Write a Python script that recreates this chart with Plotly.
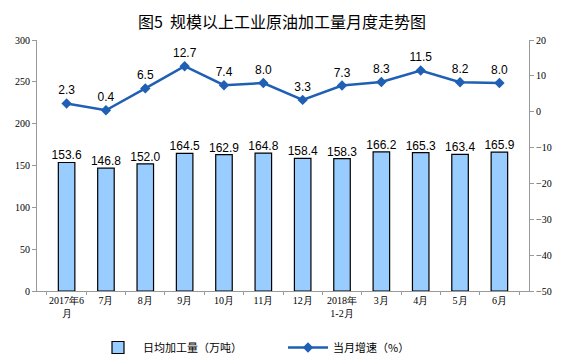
import plotly.graph_objects as go

categories = ["2017年6<br>月", "7月", "8月", "9月", "10月", "11月", "12月", "2018年<br>1-2月", "3月", "4月", "5月", "6月"]
daily_output = [153.6, 146.8, 152.0, 164.5, 162.9, 164.8, 158.4, 158.3, 166.2, 165.3, 163.4, 165.9]
growth = [2.3, 0.4, 6.5, 12.7, 7.4, 8.0, 3.3, 7.3, 8.3, 11.5, 8.2, 8.0]
left_ticks = [0, 50, 100, 150, 200, 250, 300]
right_ticks = [-50, -40, -30, -20, -10, 0, 10, 20]

label_font = dict(family="Liberation Sans, Arial, sans-serif", size=12, color="#000000")
tick_font = dict(family="Liberation Serif, DejaVu Serif, serif", size=10, color="#000000")
cjk = "Noto Sans CJK SC, sans-serif"

fig = go.Figure()
fig.add_trace(go.Bar(
    x=categories, y=daily_output, name="日均加工量（万吨）",
    marker=dict(color="#99CCFF", line=dict(color="#000000", width=1.2)),
    width=0.42,
))
fig.add_trace(go.Scatter(
    x=categories, y=daily_output, mode="text", showlegend=False,
    text=[f"{v:.1f}" for v in daily_output], textposition="top center",
    textfont=label_font, cliponaxis=False, hoverinfo="skip",
))
fig.add_trace(go.Scatter(
    x=categories, y=growth, name="当月增速（%）", yaxis="y2",
    mode="lines+markers+text",
    line=dict(color="#1F5FB4", width=2.5),
    marker=dict(symbol="diamond", size=8, color="#1F5FB4"),
    text=[f"{v:.1f}" for v in growth], textposition="top center",
    textfont=label_font, cliponaxis=False,
))

fig.update_layout(
    width=564, height=362,
    margin=dict(l=37, r=33, t=40, b=71),
    paper_bgcolor="white", plot_bgcolor="white",
    title=dict(text="图5  规模以上工业原油加工量月度走势图", x=0.5, xanchor="center",
               y=0.939, yref="container", yanchor="middle",
               font=dict(family=cjk, size=16, color="#000000", weight="normal")),
    showlegend=True,
    legend=dict(orientation="h", x=0.5, xanchor="center", y=0.04, yref="container", yanchor="middle",
                font=dict(family=cjk, size=11, color="#000000"),
                itemwidth=40, entrywidth=135),
    xaxis=dict(type="category", showline=True, linecolor="#999999", linewidth=1,
               ticks="outside", tickson="boundaries", ticklen=3, tickcolor="#999999",
               tickfont=tick_font, showgrid=False, tickangle=0),
    yaxis=dict(range=[0, 300], tickvals=left_ticks, showline=True, linecolor="#999999",
               ticks="outside", ticklen=4, tickcolor="#999999", tickfont=tick_font,
               showgrid=False, zeroline=False),
    yaxis2=dict(range=[-50, 20], tickvals=right_ticks, overlaying="y", side="right",
                showline=True, linecolor="#999999", ticks="outside", ticklen=4,
                tickcolor="#999999", tickfont=tick_font, showgrid=False, zeroline=False),
    bargap=0.5,
)

fig.write_html("out.html", config={"displayModeBar": False},
               post_script="document.body.style.margin='0';")
